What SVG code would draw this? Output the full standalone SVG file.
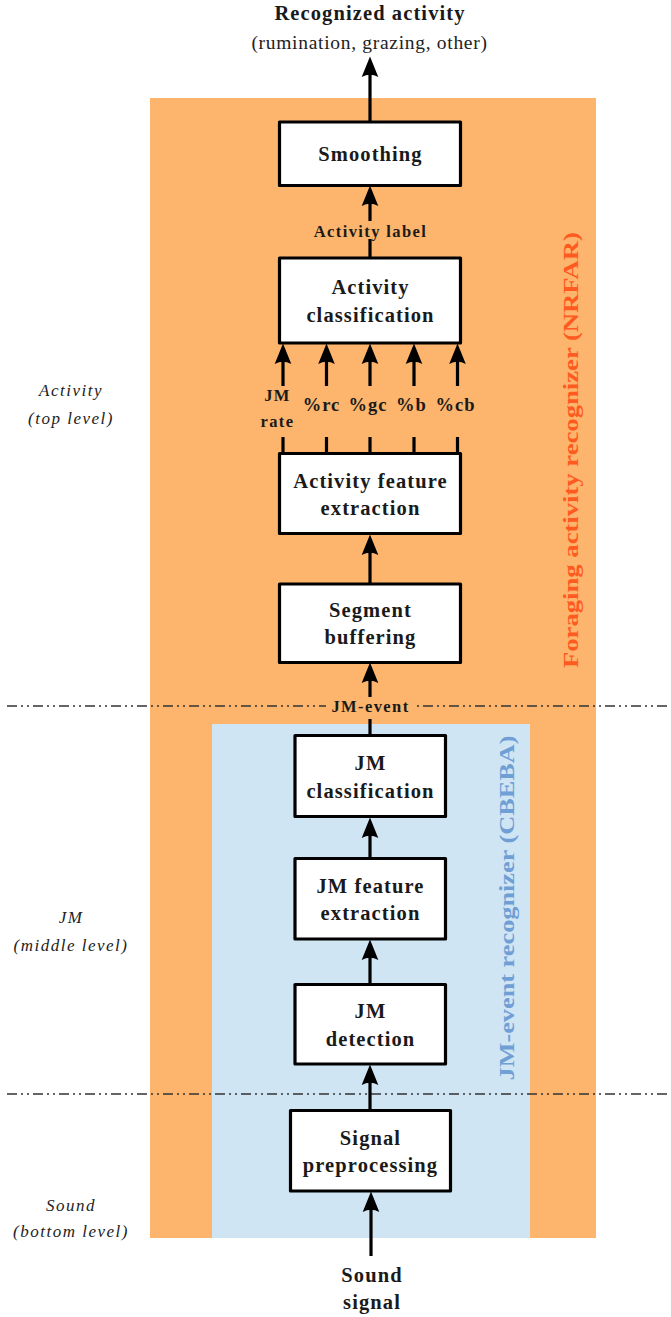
<svg xmlns="http://www.w3.org/2000/svg" width="671" height="1317" viewBox="0 0 671 1317">
<style>
text{font-family:"Liberation Serif","Times New Roman",serif;text-anchor:middle;fill:#1a1a1a}
.box{fill:#fff;stroke:#000;stroke-width:3.2;stroke-linejoin:round}
.bt{font-weight:bold;font-size:20.5px;letter-spacing:1.1px}
.lbl{font-weight:bold;font-size:16.5px;letter-spacing:1.4px}
.feat{font-weight:bold;font-size:18.5px;letter-spacing:1px}
.lvl{font-style:italic;font-size:17px;letter-spacing:1.5px;fill:#222}
.sub{font-size:19.5px;letter-spacing:0.7px;fill:#222}
.side{font-size:20.5px;font-weight:bold}
.con{stroke:#000;stroke-width:3.2;fill:none;marker-end:url(#ah)}
.dd{stroke:#333;stroke-width:1.4;stroke-dasharray:10 4 2 4 2 4;fill:none}
</style>
<defs>
<marker id="ah" markerUnits="userSpaceOnUse" viewBox="-9 -9 23 18" markerWidth="23" markerHeight="18" refX="0" refY="0" orient="auto" overflow="visible">
<path d="M12.5,0 L-8,-8.3 Q-3.5,0 -8,8.3 Z" fill="#000"/>
</marker>
</defs>
<rect width="671" height="1317" fill="#fff"/>
<g id="regions">
<rect x="150" y="98" width="446" height="1140" fill="#FDB46C"/>
<rect x="212" y="724" width="318" height="514" fill="#CFE5F3"/>
<text class="side" transform="translate(578,450) rotate(-90)" style="fill:#FF5A1F" textLength="436" lengthAdjust="spacingAndGlyphs">Foraging activity recognizer (NRFAR)</text>
<text class="side" transform="translate(514,908) rotate(-90)" style="fill:#6F9FD5" textLength="345" lengthAdjust="spacingAndGlyphs">JM-event recognizer (CBEBA)</text>
</g>
<g id="levels">
<line class="dd" x1="7" y1="706" x2="671" y2="706"/>
<line class="dd" x1="7" y1="1094" x2="671" y2="1094"/>
<text class="lvl" x="71" y="396">Activity</text>
<text class="lvl" x="71" y="424">(top level)</text>
<text class="lvl" x="71" y="923">JM</text>
<text class="lvl" x="71" y="951">(middle level)</text>
<text class="lvl" x="71" y="1211">Sound</text>
<text class="lvl" x="71" y="1237">(bottom level)</text>
</g>
<g id="connectors">
<line class="con" x1="370" y1="121" x2="370" y2="69"/>
<line class="con" x1="370" y1="257" x2="370" y2="198"/>
<line class="con" x1="283" y1="453" x2="283" y2="356"/>
<line class="con" x1="326.5" y1="453" x2="326.5" y2="356"/>
<line class="con" x1="370" y1="453" x2="370" y2="356"/>
<line class="con" x1="414" y1="453" x2="414" y2="356"/>
<line class="con" x1="457.5" y1="453" x2="457.5" y2="356"/>
<line class="con" x1="370" y1="583" x2="370" y2="547"/>
<line class="con" x1="370" y1="734" x2="370" y2="675"/>
<line class="con" x1="370" y1="857" x2="370" y2="830"/>
<line class="con" x1="370" y1="983" x2="370" y2="952"/>
<line class="con" x1="370" y1="1109" x2="370" y2="1077"/>
<line class="con" x1="371" y1="1256" x2="371" y2="1204"/>
</g>
<g id="edge-labels">
<rect x="306" y="221" width="128" height="18" fill="#FDB46C"/>
<text class="lbl" x="370.5" y="237">Activity label</text>
<rect x="326" y="697" width="88" height="22" fill="#FDB46C"/>
<text class="lbl" x="370.5" y="712">JM-event</text>
<rect x="256" y="386" width="218" height="51" fill="#FDB46C"/>
<text class="lbl" x="277.5" y="401">JM</text>
<text class="lbl" x="277.5" y="427">rate</text>
<text class="feat" x="321.5" y="411">%rc</text>
<text class="feat" x="368" y="411">%gc</text>
<text class="feat" x="411.5" y="411">%b</text>
<text class="feat" x="455.5" y="411">%cb</text>
</g>
<g id="io">
<text class="bt" x="370" y="20">Recognized activity</text>
<text class="sub" x="369.5" y="49">(rumination, grazing, other)</text>
<text class="bt" x="372" y="1282">Sound</text>
<text class="bt" x="372" y="1309">signal</text>
</g>
<g id="smoothing">
<rect class="box" x="279.5" y="122" width="181" height="63.5"/>
<text class="bt" x="370.5" y="161">Smoothing</text>
</g>
<g id="activity-classification">
<rect class="box" x="279.5" y="258" width="181" height="85"/>
<text class="bt" x="370.5" y="294">Activity</text>
<text class="bt" x="370.5" y="322">classification</text>
</g>
<g id="activity-feature-extraction">
<rect class="box" x="279.5" y="453.5" width="181" height="80"/>
<text class="bt" x="370.5" y="488">Activity feature</text>
<text class="bt" x="370.5" y="515">extraction</text>
</g>
<g id="segment-buffering">
<rect class="box" x="279.5" y="584" width="181" height="78.5"/>
<text class="bt" x="370.5" y="617">Segment</text>
<text class="bt" x="370.5" y="644">buffering</text>
</g>
<g id="jm-classification">
<rect class="box" x="295" y="735.5" width="150.5" height="81"/>
<text class="bt" x="370.5" y="770">JM</text>
<text class="bt" x="370.5" y="798">classification</text>
</g>
<g id="jm-feature-extraction">
<rect class="box" x="295" y="858.5" width="150.5" height="80.5"/>
<text class="bt" x="370.5" y="893">JM feature</text>
<text class="bt" x="370.5" y="920">extraction</text>
</g>
<g id="jm-detection">
<rect class="box" x="295" y="984.5" width="150.5" height="79.5"/>
<text class="bt" x="370.5" y="1018">JM</text>
<text class="bt" x="370.5" y="1046">detection</text>
</g>
<g id="signal-preprocessing">
<rect class="box" x="290.5" y="1110.5" width="160" height="80.5"/>
<text class="bt" x="370.5" y="1145">Signal</text>
<text class="bt" x="370.5" y="1172">preprocessing</text>
</g>
</svg>
